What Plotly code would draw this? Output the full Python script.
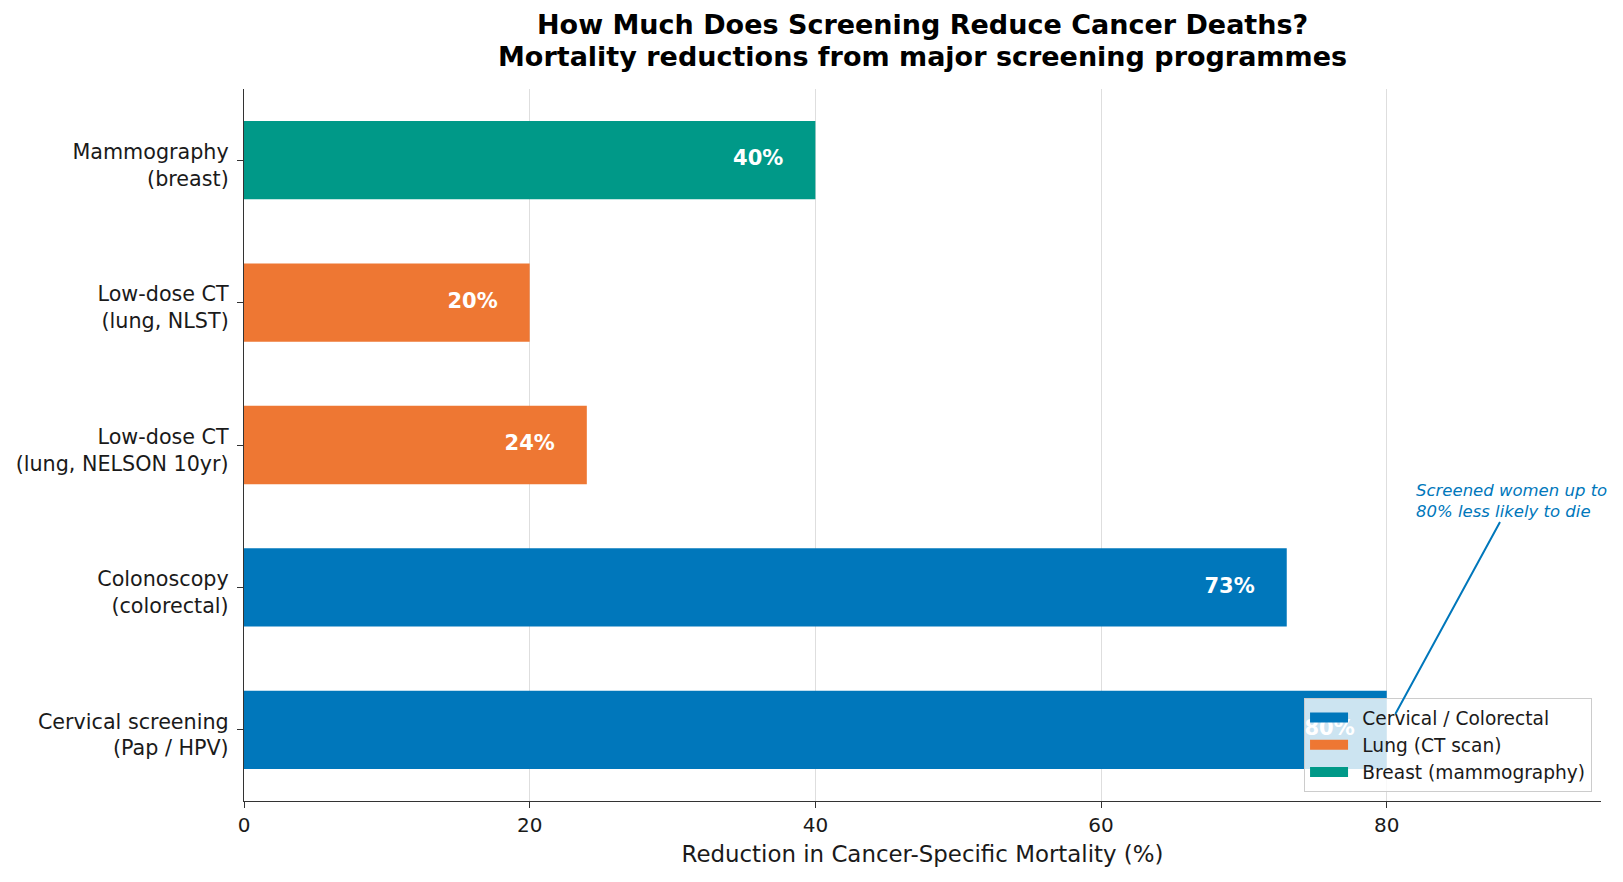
import plotly.graph_objects as go

# ---- data ----
programmes = [
    "Cervical screening<br>(Pap / HPV)",
    "Colonoscopy<br>(colorectal)",
    "Low-dose CT<br>(lung, NELSON 10yr)",
    "Low-dose CT<br>(lung, NLST)",
    "Mammography<br>(breast)",
]
reductions = [80, 73, 24, 20, 40]
groups = [
    "Cervical / Colorectal",
    "Cervical / Colorectal",
    "Lung (CT scan)",
    "Lung (CT scan)",
    "Breast (mammography)",
]
group_order = ["Cervical / Colorectal", "Lung (CT scan)", "Breast (mammography)"]
group_colors = {
    "Cervical / Colorectal": "#0077BB",
    "Lung (CT scan)": "#EE7733",
    "Breast (mammography)": "#009988",
}
x_ticks = [0, 20, 40, 60, 80]
x_max = 95
label_offset = 4
callout_text = "Screened women up to<br>80% less likely to die"
callout_target = (80, programmes[0])
callout_text_pos = (88.75, 1.61)

FONT = "DejaVu Sans"
TXT = "#1a1a1a"

fig = go.Figure()
for g in group_order:
    ys = [p for p, gg in zip(programmes, groups) if gg == g]
    xs = [v for v, gg in zip(reductions, groups) if gg == g]
    fig.add_trace(go.Bar(
        x=xs, y=ys, orientation="h", name=g, showlegend=False,
        marker=dict(color=group_colors[g], line=dict(width=0)),
        width=0.55, hoverinfo="x+y",
    ))

# value labels (as a trace so they sit beneath the legend)
fig.add_trace(go.Scatter(
    x=[v - label_offset for v in reductions], y=programmes,
    mode="text", text=[f"<b>{v}%</b>" for v in reductions],
    textposition="middle center",
    textfont=dict(family=FONT, size=21, color="white"),
    showlegend=False, hoverinfo="skip",
))

# legend swatches (wide rectangles like the reference)
for g in group_order:
    fig.add_trace(go.Scatter(
        x=[None], y=[None], mode="lines", name="\u2002" + g,
        line=dict(color=group_colors[g], width=12),
        hoverinfo="skip",
    ))

annotations = [dict(
    x=callout_target[0], y=callout_target[1], xref="x", yref="y",
    ax=callout_text_pos[0], ay=callout_text_pos[1], axref="x", ayref="y",
    text=f"<i>{callout_text}</i>", align="left",
    showarrow=True, arrowhead=0, arrowwidth=2, arrowcolor="#0077BB",
    standoff=18,
    font=dict(family=FONT, size=16.5, color="#0077BB"),
)]

# title lines
annotations.append(dict(
    x=0.5, y=1.0899, xref="paper", yref="paper", showarrow=False,
    text="<b>How Much Does Screening Reduce Cancer Deaths?</b>",
    xanchor="center", yanchor="middle",
    font=dict(family=FONT, size=27, color="black"),
))
annotations.append(dict(
    x=0.5, y=1.0463, xref="paper", yref="paper", showarrow=False,
    text="<b>Mortality reductions from major screening programmes</b>",
    xanchor="center", yanchor="middle",
    font=dict(family=FONT, size=27, color="black"),
))

fig.update_layout(
    width=1623, height=882,
    margin=dict(l=244, r=22, t=89, b=81, autoexpand=False),
    paper_bgcolor="white", plot_bgcolor="white",
    barmode="overlay",
    font=dict(family=FONT, color=TXT),
    annotations=annotations,
    legend=dict(
        x=0.9934, y=0.0126, xanchor="right", yanchor="bottom",
        bgcolor="rgba(255,255,255,0.8)", bordercolor="#cccccc", borderwidth=1,
        font=dict(family=FONT, size=18.6, color=TXT),
        traceorder="normal", itemwidth=38,
    ),
    xaxis=dict(
        range=[0, x_max], tickvals=x_ticks, ticktext=[str(t) for t in x_ticks],
        showgrid=True, gridcolor="#dedede", gridwidth=1,
        showline=True, linecolor="#333333", linewidth=1.3,
        ticks="outside", ticklen=6, tickcolor="#333333", tickwidth=1.3,
        tickfont=dict(family=FONT, size=20, color=TXT),
        zeroline=False, automargin=False,
        title=dict(text="Reduction in Cancer-Specific Mortality (%)",
                   font=dict(family=FONT, size=22.9, color=TXT), standoff=9),
    ),
    yaxis=dict(
        type="category", categoryorder="array", categoryarray=programmes,
        range=[-0.5, 4.5],
        showgrid=False, showline=True, linecolor="#333333", linewidth=1.3,
        ticks="outside", ticklen=6, tickcolor="#333333", tickwidth=1.3,
        tickfont=dict(family=FONT, size=20.7, color=TXT),
        ticklabelstandoff=4, ticklabelshift=5,
        zeroline=False, automargin=False,
    ),
)

fig.write_html("out.html")
